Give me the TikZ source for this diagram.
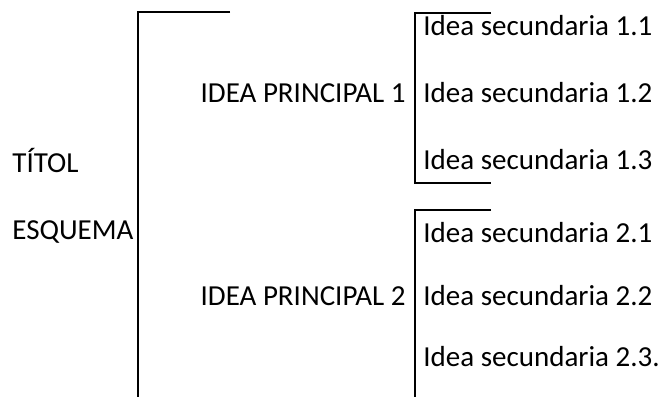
\documentclass[tikz,border=0pt]{standalone}
\usepackage{fontspec}
\setmainfont{Carlito}
\usepackage{tikz}
\usetikzlibrary{calc, positioning}

\begin{document}
\begin{tikzpicture}[x=0.5pt, y=-0.5pt,
        idea/.style={inner sep=0pt, font=\fontsize{14.5}{17}\selectfont},
        clau/.style={line width=1pt, black}]
        \useasboundingbox (0,0) rectangle (662,397);
        \node[idea, anchor=base west] (titol) at (12,172) {TÍTOL};
        \node[idea, anchor=base west] (esquema) at (12,239) {ESQUEMA};
        \node[idea, anchor=base east] (ip1) at (406,102) {IDEA PRINCIPAL 1};
        \node[idea, anchor=base east] (ip2) at (406,305) {IDEA PRINCIPAL 2};
        \foreach \n/\y/\t in {11/35/1.1, 12/102/1.2, 13/169/1.3, 21/242/2.1, 22/305/2.2, 23/366/2.3.} {
            \node[idea, anchor=base west] (s\n) at (423,\y) {Idea secundaria \t};
        }
        \coordinate (gran-a) at (230,12);
        \coordinate (gran-b) at (138,12);
        \coordinate (gran-c) at (138,397);
        \coordinate (c1-a) at (491,13);
        \coordinate (c1-b) at (415,13);
        \coordinate (c1-c) at (415,183);
        \coordinate (c1-d) at (491,183);
        \coordinate (c2-a) at (491,210);
        \coordinate (c2-b) at (415,210);
        \coordinate (c2-c) at (415,397);
        \draw[clau] (gran-a) -- (gran-b) -- (gran-c);
        \draw[clau] (c1-a) -- (c1-b) -- (c1-c) -- (c1-d);
        \draw[clau] (c2-a) -- (c2-b) -- (c2-c);
\end{tikzpicture}
\end{document}
